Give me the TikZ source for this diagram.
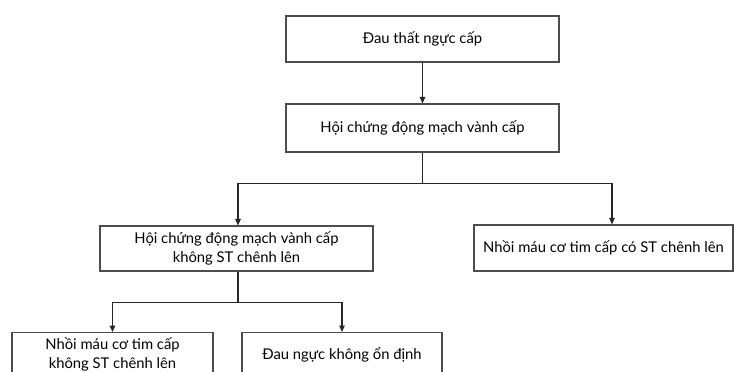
\documentclass[tikz,border=0pt]{standalone}
\usepackage{fontspec}
\setmainfont{Lato}
\usetikzlibrary{positioning, arrows.meta}

\begin{document}
\begin{tikzpicture}[x=1pt, y=-1pt,
	step box/.style={draw=black!70, line width=1.1pt, fill=white, align=center,
		font=\fontsize{14.8}{19}\selectfont, inner sep=2pt},
	flow arrow/.style={-{Triangle[length=6.5pt, width=5.5pt]}, line width=1.1pt, black!85},
	flow line/.style={line width=1.1pt, black!85},
	]
	\useasboundingbox (0,0) rectangle (736,372);
	\clip (0,0) rectangle (736,372);
	
	% top level
	\node[step box, minimum width=273pt, minimum height=46pt] (chest) at (422.5, 39) {Đau thất ngực cấp};
	\node[step box, minimum width=273pt, minimum height=48pt] (acs) at (422.5, 128) {Hội chứng động mạch vành cấp};
	
	% second level
	\node[step box, minimum width=273pt, minimum height=45pt] (nste) at (236.5, 248.5) {Hội chứng động mạch vành cấp\\không ST chênh lên};
	\node[step box, minimum width=259pt, minimum height=46pt] (stemi) at (603.5, 248) {Nhồi máu cơ tim cấp có ST chênh lên};
	
	% bottom level (cut by the frame)
	\node[step box, anchor=north, minimum width=201pt, minimum height=44pt] (nstemi) at (112.5, 332) {Nhồi máu cơ tim cấp\\không ST chênh lên};
	\node[step box, anchor=north, minimum width=200pt, minimum height=44pt] (ua) at (342, 332) {Đau ngực không ổn định};
	
	% connectors
	\draw[flow arrow] (chest) -- (acs);
	
	\draw[flow line] (acs.south) -- ++(0,31) coordinate (split1);
	\draw[flow arrow] (split1) -| ([xshift=1.5pt]nste.north);
	\draw[flow arrow] (split1) -| ([xshift=8.5pt]stemi.north);
	
	\draw[flow line] ([xshift=1.5pt]nste.south) -- ++(0,31) coordinate (split2);
	\draw[flow arrow] (split2) -| (nstemi.north);
	\draw[flow arrow] (split2) -| (ua.north);
	
\end{tikzpicture}
\end{document}
